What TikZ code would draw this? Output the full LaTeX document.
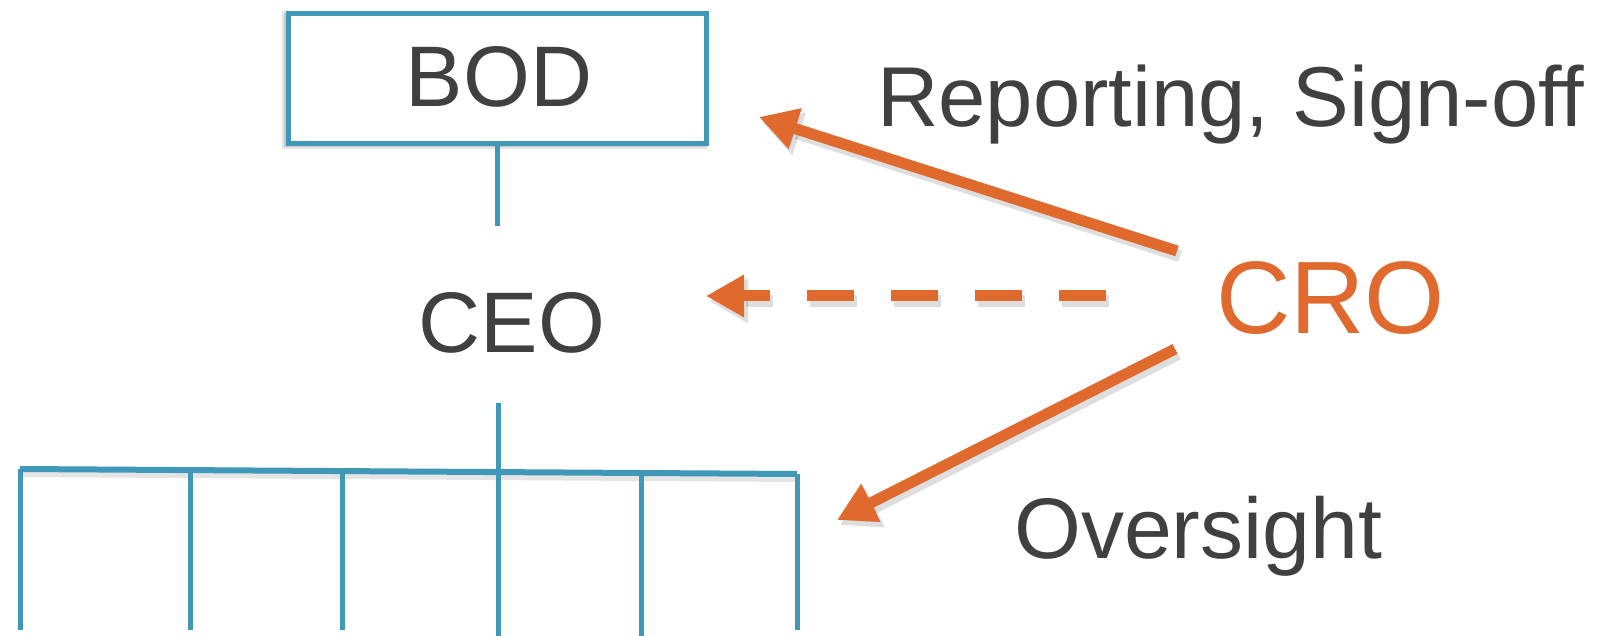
\documentclass[tikz,border=0pt]{standalone}
\usepackage{fontspec}
\setmainfont{Liberation Sans}
\usetikzlibrary{arrows.meta}
\definecolor{orgblue}{RGB}{64,152,184}
\definecolor{croorange}{RGB}{224,106,46}
\definecolor{txtgray}{RGB}{64,64,64}
\tikzset{
  orgline/.style={draw=orgblue, line width=5pt},
  lbl/.style={text=txtgray, font=\fontsize{86}{92}\selectfont, inner sep=0pt},
  croarrow/.style={draw=croorange, line width=11pt, -{Triangle[length=38pt,width=40pt]}},
  shadowline/.style={draw=black, opacity=0.13, line width=12pt, -{Triangle[length=39pt,width=42pt]}},
}
\begin{document}
\begin{tikzpicture}[x=1pt,y=-1pt]
\useasboundingbox (0,0) rectangle (1598,636);
% box shadow
\fill[black, opacity=0.10] (282,11) rectangle (707,149);
\fill[black, opacity=0.12] (284,13) rectangle (706,147);
% BOD box
\node[orgline, fill=white, minimum width=418pt, minimum height=130pt, inner sep=0pt] (bod) at (497,79) {};
\node[lbl, anchor=base] (bodtxt) at (499,107) {BOD};
% CEO
\node[lbl, anchor=base] (ceo) at (512,352) {CEO};
% org lines
\coordinate (bodend) at (497,226);
\draw[orgline] (bod.south) -- (bodend);
\coordinate (ceotop) at (498,403);
\coordinate (barL) at (20,469);
\coordinate (barR) at (797,474);
\coordinate (barM) at (498,472);
\draw[orgline] (ceotop) -- (barM);
\draw[black, opacity=0.10, line width=6pt] (20,474) -- (797,479);
\draw[orgline, line width=6pt] (barL) -- (barR);
\foreach \x/\yt/\yb [count=\i] in {20/469/630, 190/470/630, 342/471/630, 498/472/636, 641/473/636, 797/474/630}{
  \coordinate (dt\i) at (\x,\yt);
  \coordinate (db\i) at (\x,\yb);
  \draw[orgline] (dt\i) -- (db\i);
}
% labels
\node[lbl, anchor=base west, font=\fontsize{85}{92}\selectfont] (rep) at (877,127) {Reporting, Sign-off};
\node[lbl, anchor=base west, text=croorange, font=\fontsize{103}{110}\selectfont] (cro) at (1216,334) {CRO};
\node[lbl, anchor=base west] (ovs) at (1014,558) {Oversight};
% arrow endpoints
\coordinate (a1s) at (1177,251);
\coordinate (a1e) at (759,117);
\coordinate (a2s) at (1106,296);
\coordinate (a2e) at (706,296);
\coordinate (a3s) at (1175,349);
\coordinate (a3e) at (837,520);
% shadows
\draw[shadowline] ([shift={(3,5)}]a1s) -- ([shift={(3,5)}]a1e);
\draw[shadowline, dash pattern=on 47pt off 37pt] ([shift={(3,5)}]a2s) -- ([shift={(3,5)}]a2e);
\draw[shadowline] ([shift={(3,5)}]a3s) -- ([shift={(3,5)}]a3e);
% arrows
\draw[croarrow] (a1s) -- (a1e);
\draw[croarrow, dash pattern=on 47pt off 37pt] (a2s) -- (a2e);
\draw[croarrow] (a3s) -- (a3e);
\end{tikzpicture}
\end{document}
